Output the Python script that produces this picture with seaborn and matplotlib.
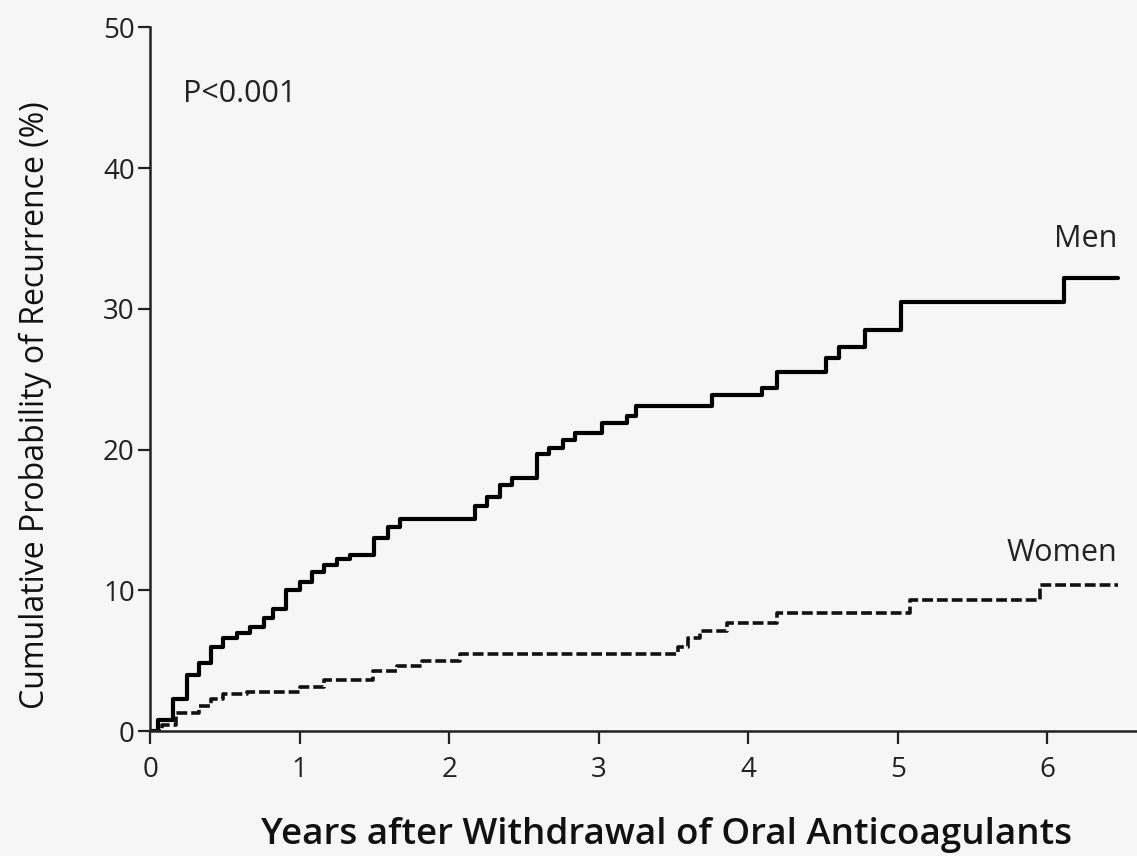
import matplotlib
matplotlib.use("Agg")
import matplotlib.pyplot as plt
import seaborn as sns
import pandas as pd

# Data
men_years = [0, 0.05, 0.15, 0.25, 0.33, 0.41, 0.49, 0.58, 0.67, 0.76, 0.82, 0.91, 1.0, 1.08,
             1.16, 1.25, 1.34, 1.5, 1.59, 1.67, 2.17, 2.25, 2.34, 2.42, 2.59, 2.67, 2.76,
             2.84, 3.02, 3.19, 3.25, 3.76, 4.09, 4.19, 4.52, 4.61, 4.78, 5.02, 6.11, 6.47]
men_pct = [0, 0.8, 2.3, 4.0, 4.8, 6.0, 6.6, 7.0, 7.4, 8.0, 8.7, 10.0, 10.6, 11.3,
           11.8, 12.2, 12.5, 13.7, 14.5, 15.1, 16.0, 16.6, 17.5, 18.0, 19.7, 20.1, 20.7,
           21.2, 21.9, 22.4, 23.1, 23.9, 24.4, 25.5, 26.5, 27.3, 28.5, 30.5, 32.2, 32.2]

women_years = [0, 0.08, 0.17, 0.33, 0.41, 0.49, 0.65, 1.0, 1.16, 1.49, 1.65, 1.82, 2.07,
               3.53, 3.6, 3.68, 3.86, 4.19, 5.08, 5.95, 6.47]
women_pct = [0, 0.4, 1.3, 1.8, 2.3, 2.6, 2.8, 3.1, 3.6, 4.3, 4.6, 5.0, 5.5,
             6.0, 6.6, 7.1, 7.7, 8.4, 9.3, 10.4, 10.4]

x_ticks = [0, 1, 2, 3, 4, 5, 6]
y_ticks = [0, 10, 20, 30, 40, 50]

men_df = pd.DataFrame({"years": men_years, "pct": men_pct})
women_df = pd.DataFrame({"years": women_years, "pct": women_pct})

sns.set_style("ticks")
plt.rcParams["font.family"] = ["Open Sans", "DejaVu Sans"]

bg = "#f6f6f6"
fig = plt.figure(figsize=(11.37, 8.56), dpi=100, facecolor=bg)
ax = fig.add_axes([0.132, 0.146, 0.868, 0.822])
ax.set_facecolor(bg)

sns.lineplot(data=men_df, x="years", y="pct", ax=ax, color="black", linewidth=3.0,
             drawstyle="steps-post", estimator=None, sort=False)
sns.lineplot(data=women_df, x="years", y="pct", ax=ax, color="#111111", linewidth=2.6,
             drawstyle="steps-post", estimator=None, sort=False,
             linestyle=(0, (3.0, 1.1)))

ax.set_xlim(0, 6.6)
ax.set_ylim(0, 50)
ax.set_xticks(x_ticks)
ax.set_yticks(y_ticks)
ax.tick_params(axis="both", labelsize=20, length=9, width=1.6, color="#222222",
               labelcolor="#222222", direction="out")
ax.tick_params(axis="y", pad=2)
ax.tick_params(axis="x", pad=9)
for s in ["top", "right"]:
    ax.spines[s].set_visible(False)
for s in ["left", "bottom"]:
    ax.spines[s].set_linewidth(1.8)
    ax.spines[s].set_color("#222222")

ax.set_xlabel("Years after Withdrawal of Oral Anticoagulants", fontsize=26.5,
              fontweight="semibold", color="#111111", va="center")
ax.xaxis.set_label_coords(0.523, -0.148)
ax.set_ylabel("Cumulative Probability of Recurrence (%)", fontsize=23,
              color="#111111", va="center")
ax.yaxis.set_label_coords(-0.1165, 0.463)

ax.text(0.22, 45.3, "P<0.001", fontsize=22, ha="left", va="center", color="#222222")
ax.text(6.47, 33.9, "Men", fontsize=22, ha="right", va="bottom", color="#222222")
ax.text(6.47, 11.6, "Women", fontsize=22, ha="right", va="bottom", color="#222222")

fig.savefig("out.png", dpi=100, facecolor=bg)
